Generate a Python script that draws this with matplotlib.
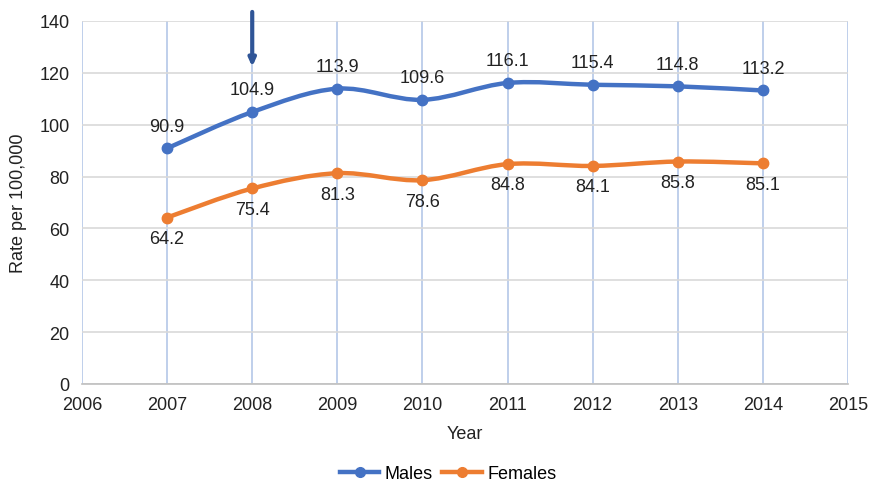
import numpy as np
import matplotlib.pyplot as plt
from matplotlib.path import Path
from matplotlib.patches import PathPatch
from matplotlib.lines import Line2D

plt.rcParams['font.family'] = ['Liberation Sans', 'DejaVu Sans']

years = [2007, 2008, 2009, 2010, 2011, 2012, 2013, 2014]
males = [90.9, 104.9, 113.9, 109.6, 116.1, 115.4, 114.8, 113.2]
females = [64.2, 75.4, 81.3, 78.6, 84.8, 84.1, 85.8, 85.1]

blue = '#4472C4'
orange = '#ED7D31'
txt = '#222222'
fs = 13


def smooth_path(x, y):
    # Excel-style smoothed line: cubic Bezier segments through the points
    x = np.asarray(x, float)
    y = np.asarray(y, float)
    verts = [(x[0], y[0])]
    codes = [Path.MOVETO]
    n = len(x)
    t = 1 / 6
    for i in range(n - 1):
        p0 = (x[max(i - 1, 0)], y[max(i - 1, 0)])
        p1 = (x[i], y[i])
        p2 = (x[i + 1], y[i + 1])
        p3 = (x[min(i + 2, n - 1)], y[min(i + 2, n - 1)])
        c1 = (p1[0] + (p2[0] - p0[0]) * t, p1[1] + (p2[1] - p0[1]) * t)
        c2 = (p2[0] - (p3[0] - p1[0]) * t, p2[1] - (p3[1] - p1[1]) * t)
        verts += [c1, c2, p2]
        codes += [Path.CURVE4] * 3
    return Path(verts, codes)


fig = plt.figure(figsize=(8.71, 4.85), dpi=100)
ax = fig.add_axes([82 / 871, 1 - 385 / 485, (848 - 82) / 871, (385 - 22) / 485])

ax.set_xlim(2006, 2015)
ax.set_ylim(0, 140)
ax.set_xticks(range(2006, 2016))
ax.set_yticks(range(0, 141, 20))

ax.yaxis.grid(True, color='#D9D9D9', linewidth=1.2)
ax.xaxis.grid(True, color='#B4C7E7', linewidth=1.2)
ax.set_axisbelow(True)
for s in ['top', 'right', 'left']:
    ax.spines[s].set_visible(False)
ax.spines['bottom'].set_color('#BFBFBF')
ax.spines['bottom'].set_linewidth(1.2)
ax.tick_params(axis='y', length=0, labelsize=fs, colors=txt, pad=9)
ax.tick_params(axis='x', length=0, labelsize=fs, colors=txt, pad=9)

for vals, col in [(males, blue), (females, orange)]:
    ax.add_patch(PathPatch(smooth_path(years, vals), facecolor='none',
                           edgecolor=col, linewidth=3.2, capstyle='round', zorder=3))
    ax.plot(years, vals, 'o', color=col, markersize=7.5, zorder=4)

for x, m, f in zip(years, males, females):
    ax.annotate(f'{m}', (x, m), xytext=(0, 16), textcoords='offset points',
                ha='center', va='center', fontsize=fs, color=txt)
    ax.annotate(f'{f}', (x, f), xytext=(0, -15), textcoords='offset points',
                ha='center', va='center', fontsize=fs, color=txt)

# arrow pointing at 2008
ax.annotate('', xy=(2008, 122.3), xytext=(2008, 143.5), annotation_clip=False,
            arrowprops=dict(arrowstyle='-|>,head_width=0.2,head_length=0.45',
                            color='#2F5597', linewidth=3, shrinkA=0, shrinkB=0))

ax.set_xlabel('Year', fontsize=fs, color=txt, labelpad=8)
ax.set_ylabel('Rate per 100,000', fontsize=fs, color=txt, labelpad=9)

handles = [Line2D([], [], color=blue, marker='o', linewidth=3.2, markersize=7),
           Line2D([], [], color=orange, marker='o', linewidth=3.2, markersize=7)]
fig.legend(handles, ['Males', 'Females'], loc='center', bbox_to_anchor=(448 / 871, 1 - 475 / 485),
           ncol=2, frameon=False, fontsize=fs, handlelength=2.2, columnspacing=0.5,
           handletextpad=0.3)

fig.savefig('out.png', dpi=100)
